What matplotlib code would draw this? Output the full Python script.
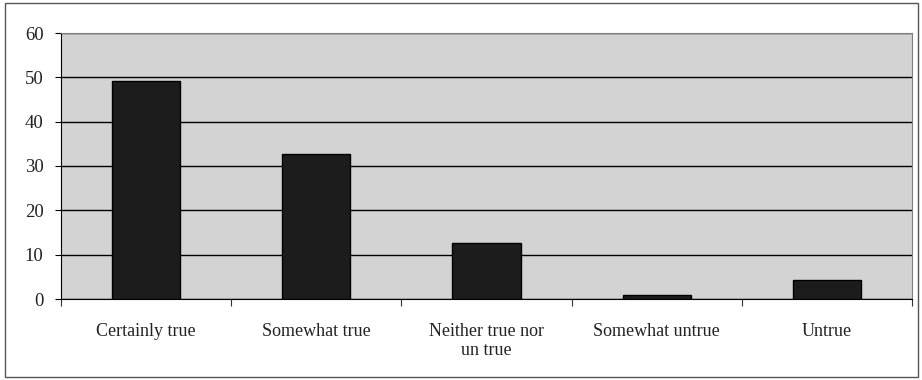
import matplotlib
matplotlib.use('Agg')
import matplotlib.pyplot as plt
from matplotlib.patches import Rectangle
import numpy as np

categories = ['Certainly true', 'Somewhat true', 'Neither true nor\nun true',
              'Somewhat untrue', 'Untrue']
values = [49.2, 32.7, 12.7, 0.9, 4.3]
y_ticks = [0, 10, 20, 30, 40, 50, 60]

plt.rcParams['font.family'] = ['Liberation Serif', 'DejaVu Serif']

fig = plt.figure(figsize=(9.22, 3.8), dpi=100)
ax = fig.add_axes([61 / 922, 1 - 299 / 380, 851 / 922, 266 / 380])

# outer chart border
fig.patches.append(Rectangle((5 / 922, 3 / 380), 913 / 922, 374 / 380,
                             transform=fig.transFigure, fill=False,
                             edgecolor='#555555', linewidth=1.0))

x = np.arange(len(categories))
ax.set_facecolor('#d3d3d3')
ax.bar(x, values, width=0.4, color='#1c1c1c', edgecolor='black',
       linewidth=1.0, zorder=3)

ax.set_xlim(-0.5, len(categories) - 0.5)
ax.set_ylim(0, 60)
ax.set_yticks(y_ticks)
ax.yaxis.grid(True, color='black', linewidth=1.0, zorder=1)
ax.set_axisbelow(True)

# category labels centred, ticks between categories
ax.set_xticks(np.arange(-0.5, len(categories), 1.0))
ax.set_xticklabels([])
ax.set_xticks(x, minor=True)
ax.set_xticklabels(categories, minor=True, fontsize=13, color='#222222',
                   linespacing=1.15)
ax.tick_params(axis='x', which='minor', length=0, pad=17)
ax.tick_params(axis='x', which='major', length=5, direction='out', color='#333333')
ax.tick_params(axis='y', length=4.5, direction='out', labelsize=13.5, pad=8,
               labelcolor='#222222')

ax.spines['left'].set_color('black')
ax.spines['bottom'].set_color('black')
ax.spines['top'].set_color('#808080')
ax.spines['right'].set_color('#808080')

fig.savefig('out.png', dpi=100)
